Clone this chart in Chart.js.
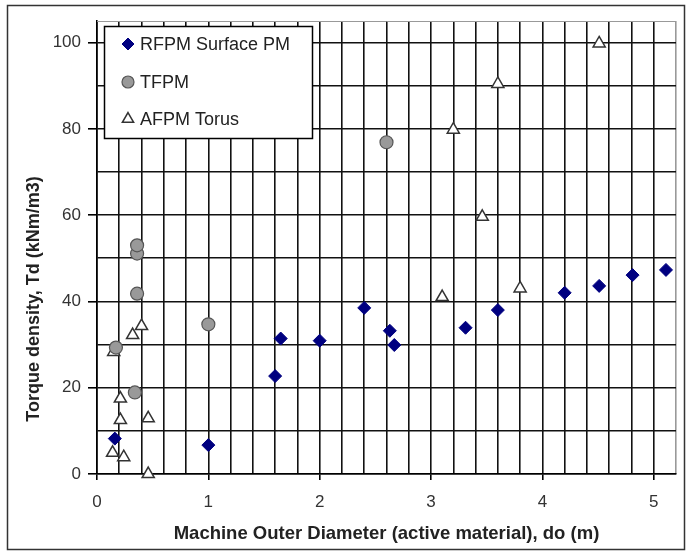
<!DOCTYPE html>
<html>
<head>
<meta charset="utf-8">
<script src="https://cdn.jsdelivr.net/npm/chart.js@4.4.1/dist/chart.umd.min.js"></script>
<style>
  html, body { margin: 0; padding: 0; background: #fff; }
</style>
</head>
<body>
<canvas id="chart" width="688" height="556"></canvas>
<script>
// machine outer diameter do (m) vs torque density Td (kNm/m3)
var rfpmX = [0.16, 1.0, 1.6, 1.65, 2.0, 2.4, 2.63, 2.67, 3.31, 3.6, 4.2, 4.51, 4.81, 5.11];
var rfpmY = [8.2, 6.7, 22.7, 31.4, 30.9, 38.5, 33.2, 29.9, 33.9, 38.0, 42.0, 43.6, 46.1, 47.3];

var tfpmX = [0.17, 0.34, 0.36, 0.36, 0.36, 1.0, 2.6];
var tfpmY = [29.3, 18.9, 41.8, 51.1, 53.0, 34.7, 76.9];

var afpmX = [0.15, 0.32, 0.40, 0.21, 0.21, 0.46, 0.14, 0.24, 0.46, 3.10, 3.80, 3.20, 3.46, 3.60, 4.51];
var afpmY = [28.3, 32.2, 34.3, 17.5, 12.5, 12.9, 4.9, 3.9, 0.0, 41.0, 43.0, 79.8, 59.6, 90.4, 99.8];

var seriesLabels = ['RFPM Surface PM', 'TFPM', 'AFPM Torus'];
var xTitle = 'Machine Outer Diameter (active material), do (m)';
var yTitle = 'Torque density, Td (kNm/m3)';

function toPoints(xs, ys) {
    var pts = [];
    for (var i = 0; i < xs.length; i++) {
        pts.push({x: xs[i], y: ys[i]});
    }
    return pts;
}

var FONT = "'Liberation Sans', Arial, sans-serif";

// white page + frame round the whole chart
var framePlugin = {
    id: 'frame',
    beforeDraw: function(chart) {
        var ctx = chart.ctx;
        ctx.save();
        ctx.fillStyle = '#fff';
        ctx.fillRect(0, 0, chart.width, chart.height);
        ctx.strokeStyle = '#333';
        ctx.lineWidth = 1.5;
        ctx.strokeRect(7.5, 5.5, 677, 544);
        ctx.restore();
    },
    afterDraw: function(chart) {
        var ctx = chart.ctx;
        var a = chart.chartArea;
        ctx.save();
        // grey top edge of plot area
        ctx.strokeStyle = '#999';
        ctx.lineWidth = 1;
        ctx.beginPath();
        ctx.moveTo(a.left, a.top + 0.5);
        ctx.lineTo(a.right, a.top + 0.5);
        ctx.stroke();

        // y axis title (sits below the middle, as in the original)
        ctx.fillStyle = '#222';
        ctx.font = 'bold 18px ' + FONT;
        ctx.textAlign = 'center';
        ctx.textBaseline = 'middle';
        ctx.translate(34, 299);
        ctx.rotate(-Math.PI / 2);
        ctx.fillText(yTitle, 0, 0);
        ctx.restore();
    }
};

// legend box inside the plot, top left
var boxLegend = {
    id: 'boxLegend',
    afterDraw: function(chart) {
        var ctx = chart.ctx;
        ctx.save();
        ctx.fillStyle = '#fff';
        ctx.fillRect(104, 26, 208, 112);
        ctx.strokeStyle = '#000';
        ctx.lineWidth = 1.5;
        ctx.strokeRect(104.5, 26.5, 208, 112);

        var rows = [44, 82, 119];
        chart.data.datasets.forEach(function(ds, i) {
            ctx.fillStyle = ds.backgroundColor;
            ctx.strokeStyle = ds.borderColor;
            ctx.lineWidth = ds.borderWidth;
            Chart.helpers.drawPoint(ctx, {
                pointStyle: ds.pointStyle,
                radius: ds.pointRadius - 0.5,
                borderWidth: ds.borderWidth,
                rotation: 0
            }, 128, rows[i]);
            ctx.fillStyle = '#222';
            ctx.font = '18px ' + FONT;
            ctx.textAlign = 'left';
            ctx.textBaseline = 'middle';
            ctx.fillText(ds.label, 140, rows[i] + 1);
        });
        ctx.restore();
    }
};

var ctx = document.getElementById('chart').getContext('2d');
var chart = new Chart(ctx, {
    type: 'scatter',
    plugins: [framePlugin, boxLegend],
    data: {
        datasets: [
            {
                label: seriesLabels[0],
                data: toPoints(rfpmX, rfpmY),
                pointStyle: 'rectRot',
                pointRadius: 6.5,
                backgroundColor: '#000080',
                borderColor: '#000080',
                borderWidth: 1,
                clip: false,
            },
            {
                label: seriesLabels[1],
                data: toPoints(tfpmX, tfpmY),
                pointStyle: 'circle',
                pointRadius: 6.5,
                backgroundColor: '#999999',
                borderColor: '#555555',
                borderWidth: 1.2,
                clip: false,
            },
            {
                label: seriesLabels[2],
                data: toPoints(afpmX, afpmY),
                pointStyle: 'triangle',
                pointRadius: 7,
                backgroundColor: '#ffffff',
                borderColor: '#333333',
                borderWidth: 1.5,
                clip: false,
            },
        ],
    },
    options: {
        responsive: false,
        animation: false,
        events: [],
        layout: {
            padding: {left: 0, right: 9, top: 21, bottom: 0}
        },
        plugins: {
            legend: {display: false},
            tooltip: {enabled: false},
        },
        scales: {
            x: {
                type: 'linear',
                min: 0,
                max: 5.2,
                afterFit: function(scale) { scale.height = 82; },
                border: {color: '#000', width: 1.6},
                grid: {
                    color: function(c) { return c.tick && c.tick.value > 5.1 ? '#999' : '#111'; },
                    lineWidth: 1.6,
                    tickLength: 6,
                    tickColor: function(c) {
                        var v = c.tick ? c.tick.value : 0;
                        return Math.abs(v - Math.round(v)) < 1e-6 ? '#000' : 'rgba(0,0,0,0)';
                    },
                },
                ticks: {
                    stepSize: 0.2,
                    autoSkip: false,
                    maxRotation: 0,
                    padding: 12,
                    color: '#333',
                    font: {family: FONT, size: 17},
                    callback: function(v) {
                        return Math.abs(v - Math.round(v)) < 1e-6 ? String(Math.round(v)) : '';
                    },
                },
                title: {
                    display: true,
                    text: xTitle,
                    color: '#222',
                    font: {family: FONT, size: 18.5, weight: 'bold'},
                    padding: {top: 0, bottom: 11},
                },
            },
            y: {
                type: 'linear',
                min: 0,
                max: 105,
                afterFit: function(scale) { scale.width = 97; },
                border: {color: '#000', width: 1.6},
                grid: {
                    color: function(c) { return c.tick && c.tick.value > 100 ? '#999' : '#111'; },
                    lineWidth: 1.6,
                    tickLength: 9,
                    tickColor: function(c) {
                        var v = c.tick ? c.tick.value : 0;
                        return v % 20 === 0 ? '#000' : 'rgba(0,0,0,0)';
                    },
                },
                ticks: {
                    stepSize: 10,
                    includeBounds: false,
                    autoSkip: false,
                    padding: 7,
                    color: '#333',
                    font: {family: FONT, size: 17},
                    callback: function(v) { return v % 20 === 0 ? String(v) : ''; },
                },
            },
        },
    },
});
</script>
</body>
</html>
